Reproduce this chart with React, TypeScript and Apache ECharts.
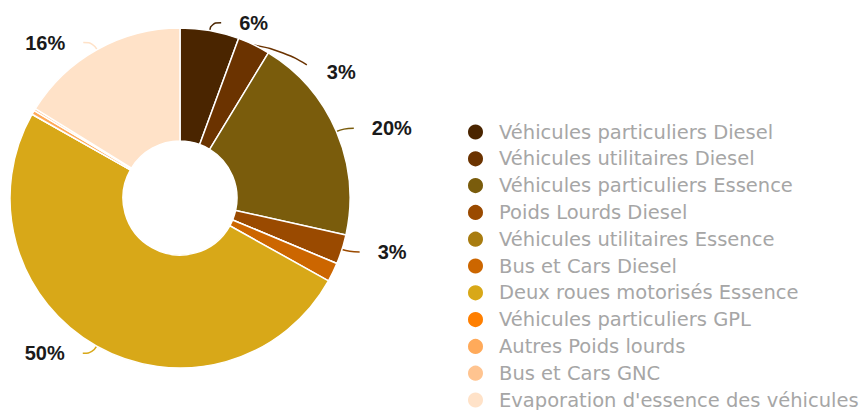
import React, { useEffect, useRef } from "react";
import * as echarts from "echarts";

const categories = [
  "Véhicules particuliers Diesel",
  "Véhicules utilitaires Diesel",
  "Véhicules particuliers Essence",
  "Poids Lourds Diesel",
  "Véhicules utilitaires Essence",
  "Bus et Cars Diesel",
  "Deux roues motorisés Essence",
  "Véhicules particuliers GPL",
  "Autres Poids lourds",
  "Bus et Cars GNC",
  "Evaporation d'essence des véhicules",
];

const values = [5.6, 3.1, 19.8, 2.8, 0, 1.8, 50.1, 0, 0.4, 0.2, 16.2];

const colors = [
  "#4a2500",
  "#6b3300",
  "#7a5c0c",
  "#9a4a00",
  "#a87c10",
  "#cc6600",
  "#d8a818",
  "#ff7f00",
  "#ffaa5a",
  "#ffc490",
  "#ffe2c8",
];

const LABEL_MIN = 2.5;

export default function App() {
  const ref = useRef<HTMLDivElement>(null);

  useEffect(() => {
    document.body.style.margin = "0";
    if (!ref.current) return;
    const chart = echarts.init(ref.current, undefined, { renderer: "svg" });
    const data = categories.map((name, i) => {
      const show = values[i] >= LABEL_MIN;
      return {
        name,
        value: values[i],
        itemStyle: { color: colors[i] },
        label: { show },
        labelLine: { show },
      };
    });
    chart.setOption({
      animation: false,
      color: colors,
      legend: {
        orient: "vertical",
        left: 461,
        top: 117,
        icon: "circle",
        itemWidth: 17,
        itemHeight: 17,
        itemGap: 6.8,
        data: categories,
        textStyle: {
          fontFamily: "DejaVu Sans",
          fontSize: 19.5,
          lineHeight: 19.5,
          color: "#a6a6a6",
          padding: [0, 0, 0, 10],
        },
        selectedMode: false,
      },
      series: [
        {
          type: "pie",
          center: [180, 198],
          radius: [57, 170],
          startAngle: 90,
          clockwise: true,
          avoidLabelOverlap: false,
          itemStyle: { borderColor: "#ffffff", borderWidth: 1.5 },
          label: {
            position: "outside",
            fontFamily: "Liberation Sans",
            fontWeight: "bold",
            fontSize: 20,
            color: "#1a1a1a",
            formatter: (p: any) => Math.round(p.percent) + "%",
            distanceToLabelLine: 18,
          },
          labelLine: {
            length: 8,
            length2: 10,
            smooth: 0.5,
            lineStyle: { width: 1.5 },
          },
          labelLayout: (p: any) => {
            if (p.dataIndex !== 1 || !p.labelLinePoints) return {};
            const p0 = p.labelLinePoints[0];
            return {
              x: p0[0] + 73,
              y: p0[1] + 27,
              align: "left",
              verticalAlign: "middle",
              labelLinePoints: [
                [p0[0], p0[1]],
                [p0[0] + 30, p0[1] + 6],
                [p0[0] + 53, p0[1] + 20],
              ],
            };
          },
          emphasis: { disabled: true },
          data,
        },
      ],
    });
    return () => chart.dispose();
  }, []);

  return (
    <div style={{ width: 866, height: 410, overflow: "hidden" }}>
      <div ref={ref} style={{ width: 866, height: 440 }} />
    </div>
  );
}
